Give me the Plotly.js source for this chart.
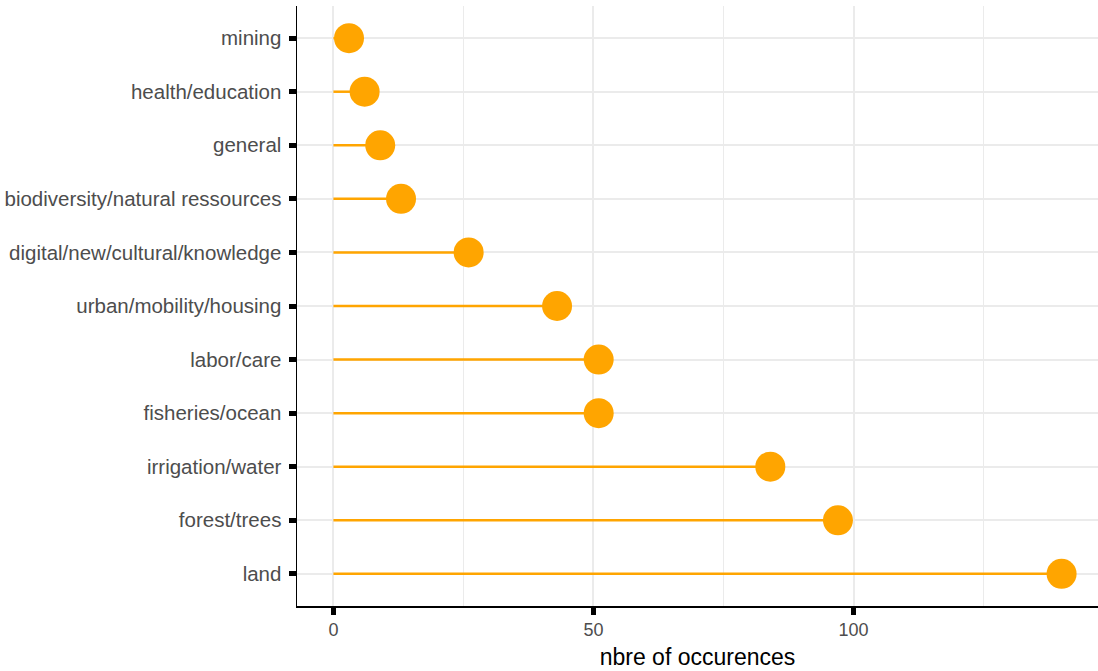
<!DOCTYPE html>
<html>
<head>
<meta charset="utf-8">
<script src="https://cdn.plot.ly/plotly-3.0.1.min.js"></script>
<style>html,body{margin:0;padding:0;background:#fff;}#chart{width:1098px;height:671px;}</style>
</head>
<body>
<div id="chart"></div>
<script>
const categories = ["land","forest/trees","irrigation/water","fisheries/ocean","labor/care","urban/mobility/housing","digital/new/cultural/knowledge","biodiversity/natural ressources","general","health/education","mining"];
const counts = [140, 97, 84, 51, 51, 43, 26, 13, 9, 6, 3];
const xTickVals = [0, 50, 100];
const xTitle = "nbre of occurences";

const segX = [], segY = [];
categories.forEach((c, i) => { segX.push(0, counts[i], null); segY.push(c, c, null); });

const traces = [
  {type:"scatter", mode:"lines", x:segX, y:segY, line:{color:"#FFA500", width:2.5}, hoverinfo:"skip", showlegend:false},
  {type:"scatter", mode:"markers", x:counts, y:categories, marker:{color:"#FFA500", size:30, line:{width:0}}, showlegend:false}
];

const layout = {
  width:1098, height:671,
  margin:{l:297, r:0, t:6, b:65},
  paper_bgcolor:"#fff", plot_bgcolor:"#fff",
  font:{family:"Liberation Sans, Arial, sans-serif", color:"#4D4D4D", size:18},
  xaxis:{
    range:[-7, 147], tickvals:xTickVals, ticktext:xTickVals.map(String),
    showgrid:true, gridcolor:"#EBEBEB", gridwidth:2, zeroline:false,
    minor:{tickvals:[25,75,125], showgrid:true, gridcolor:"#EBEBEB", gridwidth:1, ticklen:0},
    showline:true, linecolor:"#000", linewidth:1.5,
    ticks:"outside", ticklen:7, tickwidth:5, tickcolor:"#000",
    tickfont:{size:18, color:"#4D4D4D"},
    title:{text:xTitle, font:{size:23, color:"#000"}, standoff:10}
  },
  yaxis:{
    type:"category", categoryorder:"array", categoryarray:categories,
    range:[-0.6, 10.6],
    showgrid:true, gridcolor:"#EBEBEB", gridwidth:2, zeroline:false,
    showline:true, linecolor:"#000", linewidth:1.5,
    ticks:"outside", ticklen:7, tickwidth:5, tickcolor:"#000",
    ticklabelstandoff:3,
    tickfont:{size:20.5, color:"#4D4D4D"}
  }
};
Plotly.newPlot("chart", traces, layout, {displayModeBar:false, staticPlot:true});
</script>
</body>
</html>
